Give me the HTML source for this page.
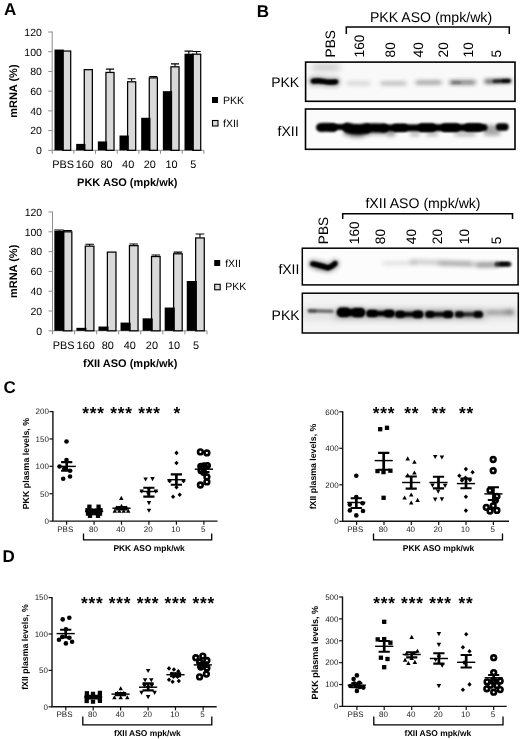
<!DOCTYPE html>
<html lang="en"><head><meta charset="utf-8"><title>Figure</title>
<style>
html,body{margin:0;padding:0;background:#fff;}
body{width:520px;height:739px;overflow:hidden;}
svg{display:block;font-family:"Liberation Sans", Arial, sans-serif;fill:#000;text-rendering:geometricPrecision;}
</style></head><body>
<svg width="520" height="739" viewBox="0 0 520 739">
<rect x="0" y="0" width="520" height="739" fill="#fff"/>
<g id="panelA">
<text x="3.9" y="15.2" font-size="17" font-weight="bold" text-anchor="start">A</text>
<g stroke="#8c8c8c" stroke-width="1" fill="none">
<path d="M52.2 31.5V150.3H203.9"/>
<path d="M48.2 150.30H52.2"/>
<path d="M48.2 130.58H52.2"/>
<path d="M48.2 110.87H52.2"/>
<path d="M48.2 91.15H52.2"/>
<path d="M48.2 71.43H52.2"/>
<path d="M48.2 51.72H52.2"/>
<path d="M48.2 32.00H52.2"/>
<path d="M52.20 150.3V153.8"/>
<path d="M73.87 150.3V153.8"/>
<path d="M95.54 150.3V153.8"/>
<path d="M117.21 150.3V153.8"/>
<path d="M138.89 150.3V153.8"/>
<path d="M160.56 150.3V153.8"/>
<path d="M182.23 150.3V153.8"/>
<path d="M203.90 150.3V153.8"/>
</g>
<text x="41.900000000000006" y="154.1" font-size="10.5" text-anchor="end">0</text>
<text x="41.900000000000006" y="134.38" font-size="10.5" text-anchor="end">20</text>
<text x="41.900000000000006" y="114.67" font-size="10.5" text-anchor="end">40</text>
<text x="41.900000000000006" y="94.95" font-size="10.5" text-anchor="end">60</text>
<text x="41.900000000000006" y="75.23" font-size="10.5" text-anchor="end">80</text>
<text x="41.900000000000006" y="55.52" font-size="10.5" text-anchor="end">100</text>
<text x="41.900000000000006" y="35.8" font-size="10.5" text-anchor="end">120</text>
<rect x="62.59" y="51.03" width="8.10" height="99.27" fill="#d9d9d9" stroke="#000" stroke-width="1.25"/>
<rect x="54.49" y="49.55" width="9.30" height="100.75" fill="#000"/>
<rect x="84.26" y="69.67" width="8.10" height="80.63" fill="#d9d9d9" stroke="#000" stroke-width="1.25"/>
<rect x="76.16" y="143.89" width="9.30" height="6.41" fill="#000"/>
<rect x="105.93" y="72.43" width="8.10" height="77.87" fill="#d9d9d9" stroke="#000" stroke-width="1.25"/>
<rect x="97.83" y="141.43" width="9.30" height="8.87" fill="#000"/>
<path d="M109.98 71.93V69.17M105.93 69.17H114.03" stroke="#000" stroke-width="1.1" fill="none"/>
<rect x="127.60" y="81.79" width="8.10" height="68.51" fill="#d9d9d9" stroke="#000" stroke-width="1.25"/>
<rect x="119.50" y="135.51" width="9.30" height="14.79" fill="#000"/>
<path d="M131.65 81.29V78.73M127.60 78.73H135.70" stroke="#000" stroke-width="1.1" fill="none"/>
<rect x="149.27" y="77.85" width="8.10" height="72.45" fill="#d9d9d9" stroke="#000" stroke-width="1.25"/>
<rect x="141.17" y="117.77" width="9.30" height="32.53" fill="#000"/>
<path d="M153.32 77.35V76.56M149.27 76.56H157.37" stroke="#000" stroke-width="1.1" fill="none"/>
<rect x="170.94" y="66.81" width="8.10" height="83.49" fill="#d9d9d9" stroke="#000" stroke-width="1.25"/>
<rect x="162.84" y="91.15" width="9.30" height="59.15" fill="#000"/>
<path d="M174.99 66.31V63.84M170.94 63.84H179.04" stroke="#000" stroke-width="1.1" fill="none"/>
<rect x="192.61" y="54.19" width="8.10" height="96.11" fill="#d9d9d9" stroke="#000" stroke-width="1.25"/>
<rect x="184.51" y="53.69" width="9.30" height="96.61" fill="#000"/>
<path d="M188.81 53.69V51.22M184.51 51.22H193.11" stroke="#000" stroke-width="1.2" fill="none"/>
<path d="M196.66 53.69V51.52M192.61 51.52H200.71" stroke="#000" stroke-width="1.1" fill="none"/>
<text x="63.14" y="168.2" font-size="10.9" text-anchor="middle">PBS</text>
<text x="84.81" y="168.2" font-size="10.9" text-anchor="middle">160</text>
<text x="106.48" y="168.2" font-size="10.9" text-anchor="middle">80</text>
<text x="128.15" y="168.2" font-size="10.9" text-anchor="middle">40</text>
<text x="149.82" y="168.2" font-size="10.9" text-anchor="middle">20</text>
<text x="171.49" y="168.2" font-size="10.9" text-anchor="middle">10</text>
<text x="193.16" y="168.2" font-size="10.9" text-anchor="middle">5</text>
<text x="127.3" y="186" font-size="11" font-weight="bold" text-anchor="middle">PKK ASO (mpk/wk)</text>
<text x="17.3" y="91.15" font-size="11" font-weight="bold" text-anchor="middle" transform="rotate(-90 17.3 91.15)">mRNA (%)</text>
<rect x="212" y="97" width="6" height="6" fill="#000"/>
<text x="223" y="103.6" font-size="10.5" text-anchor="start">PKK</text>
<rect x="212.5" y="120.5" width="5.5" height="5.5" fill="#d9d9d9" stroke="#000" stroke-width="1.1"/>
<text x="223" y="126.6" font-size="10.5" text-anchor="start">fXII</text>
<g stroke="#8c8c8c" stroke-width="1" fill="none">
<path d="M52.5 211.5V330.8H207"/>
<path d="M48.5 330.80H52.5"/>
<path d="M48.5 311.00H52.5"/>
<path d="M48.5 291.20H52.5"/>
<path d="M48.5 271.40H52.5"/>
<path d="M48.5 251.60H52.5"/>
<path d="M48.5 231.80H52.5"/>
<path d="M48.5 212.00H52.5"/>
<path d="M52.50 330.8V334.3"/>
<path d="M74.57 330.8V334.3"/>
<path d="M96.64 330.8V334.3"/>
<path d="M118.71 330.8V334.3"/>
<path d="M140.79 330.8V334.3"/>
<path d="M162.86 330.8V334.3"/>
<path d="M184.93 330.8V334.3"/>
<path d="M207.00 330.8V334.3"/>
</g>
<text x="42.2" y="334.6" font-size="10.5" text-anchor="end">0</text>
<text x="42.2" y="314.8" font-size="10.5" text-anchor="end">20</text>
<text x="42.2" y="295.0" font-size="10.5" text-anchor="end">40</text>
<text x="42.2" y="275.2" font-size="10.5" text-anchor="end">60</text>
<text x="42.2" y="255.4" font-size="10.5" text-anchor="end">80</text>
<text x="42.2" y="235.6" font-size="10.5" text-anchor="end">100</text>
<text x="42.2" y="215.8" font-size="10.5" text-anchor="end">120</text>
<rect x="63.24" y="231.81" width="8.60" height="99.00" fill="#d9d9d9" stroke="#000" stroke-width="1.25"/>
<rect x="54.34" y="230.81" width="10.10" height="99.99" fill="#000"/>
<path d="M59.04 230.81V230.02M54.34 230.02H63.74" stroke="#000" stroke-width="1.2" fill="none"/>
<path d="M67.54 231.31V230.51M63.24 230.51H71.84" stroke="#000" stroke-width="1.1" fill="none"/>
<rect x="85.31" y="246.16" width="8.60" height="84.64" fill="#d9d9d9" stroke="#000" stroke-width="1.25"/>
<rect x="76.41" y="327.83" width="10.10" height="2.97" fill="#000"/>
<path d="M89.61 245.66V244.18M85.31 244.18H93.91" stroke="#000" stroke-width="1.1" fill="none"/>
<rect x="107.38" y="252.10" width="8.60" height="78.70" fill="#d9d9d9" stroke="#000" stroke-width="1.25"/>
<rect x="98.48" y="326.54" width="10.10" height="4.26" fill="#000"/>
<rect x="129.45" y="245.67" width="8.60" height="85.14" fill="#d9d9d9" stroke="#000" stroke-width="1.25"/>
<rect x="120.55" y="322.58" width="10.10" height="8.22" fill="#000"/>
<path d="M133.75 245.17V243.98M129.45 243.98H138.05" stroke="#000" stroke-width="1.1" fill="none"/>
<rect x="151.52" y="256.56" width="8.60" height="74.25" fill="#d9d9d9" stroke="#000" stroke-width="1.25"/>
<rect x="142.62" y="318.33" width="10.10" height="12.47" fill="#000"/>
<path d="M155.82 256.06V255.06M151.52 255.06H160.12" stroke="#000" stroke-width="1.1" fill="none"/>
<rect x="173.59" y="253.78" width="8.60" height="77.02" fill="#d9d9d9" stroke="#000" stroke-width="1.25"/>
<rect x="164.69" y="307.54" width="10.10" height="23.27" fill="#000"/>
<path d="M177.89 253.28V252.09M173.59 252.09H182.19" stroke="#000" stroke-width="1.1" fill="none"/>
<rect x="195.66" y="237.94" width="8.60" height="92.86" fill="#d9d9d9" stroke="#000" stroke-width="1.25"/>
<rect x="186.76" y="281.00" width="10.10" height="49.80" fill="#000"/>
<path d="M199.96 237.44V233.98M195.66 233.98H204.26" stroke="#000" stroke-width="1.1" fill="none"/>
<text x="63.64" y="349" font-size="10.9" text-anchor="middle">PBS</text>
<text x="85.71" y="349" font-size="10.9" text-anchor="middle">160</text>
<text x="107.78" y="349" font-size="10.9" text-anchor="middle">80</text>
<text x="129.85" y="349" font-size="10.9" text-anchor="middle">40</text>
<text x="151.92" y="349" font-size="10.9" text-anchor="middle">20</text>
<text x="173.99" y="349" font-size="10.9" text-anchor="middle">10</text>
<text x="196.06" y="349" font-size="10.9" text-anchor="middle">5</text>
<text x="130.2" y="367" font-size="11" font-weight="bold" text-anchor="middle">fXII ASO (mpk/wk)</text>
<text x="17.3" y="271.4" font-size="11" font-weight="bold" text-anchor="middle" transform="rotate(-90 17.3 271.4)">mRNA (%)</text>
<rect x="214.2" y="260" width="6" height="6" fill="#000"/>
<text x="225.2" y="266.6" font-size="10.5" text-anchor="start">fXII</text>
<rect x="214.7" y="284.3" width="5.5" height="5.5" fill="#d9d9d9" stroke="#000" stroke-width="1.1"/>
<text x="225.2" y="290.40000000000003" font-size="10.5" text-anchor="start">PKK</text>
</g>
<g id="panelB">
<text x="256.7" y="17.0" font-size="17" font-weight="bold" text-anchor="start">B</text>
<defs>
<filter id="b0" filterUnits="userSpaceOnUse" x="290" y="50" width="240" height="300"><feGaussianBlur stdDeviation="0.9"/></filter>
<filter id="b1" filterUnits="userSpaceOnUse" x="290" y="50" width="240" height="300"><feGaussianBlur stdDeviation="1.3"/></filter>
<filter id="b2" filterUnits="userSpaceOnUse" x="290" y="50" width="240" height="300"><feGaussianBlur stdDeviation="2"/></filter>
<filter id="b3" filterUnits="userSpaceOnUse" x="290" y="50" width="240" height="300"><feGaussianBlur stdDeviation="3.2"/></filter>
</defs>
<text x="431" y="22.1" font-size="14.1" text-anchor="middle">PKK ASO (mpk/wk)</text>
<path d="M346.3 34V27H509.3V34" fill="none" stroke="#000" stroke-width="1.5"/>
<text x="335.2" y="57.4" font-size="13.7" text-anchor="start" transform="rotate(-90 335.2 57.4)">PBS</text>
<text x="363.7" y="57.4" font-size="13.7" text-anchor="start" transform="rotate(-90 363.7 57.4)">160</text>
<text x="395.4" y="57.4" font-size="13.7" text-anchor="start" transform="rotate(-90 395.4 57.4)">80</text>
<text x="423.1" y="57.4" font-size="13.7" text-anchor="start" transform="rotate(-90 423.1 57.4)">40</text>
<text x="448.1" y="57.4" font-size="13.7" text-anchor="start" transform="rotate(-90 448.1 57.4)">20</text>
<text x="472.9" y="57.4" font-size="13.7" text-anchor="start" transform="rotate(-90 472.9 57.4)">10</text>
<text x="501.1" y="57.4" font-size="13.7" text-anchor="start" transform="rotate(-90 501.1 57.4)">5</text>
<text x="271.2" y="87.4" font-size="14" text-anchor="start">PKK</text>
<text x="277.6" y="136.4" font-size="14" text-anchor="start">fXII</text>
<clipPath id="c1"><rect x="305.6" y="62.1" width="209.40" height="39.20"/></clipPath>
<rect x="305.6" y="62.1" width="209.40" height="39.20" fill="#f9f9f9"/>
<g clip-path="url(#c1)">
<path d="M315 67.6L337 67.6" fill="none" stroke="#666" stroke-width="6" stroke-linecap="round" stroke-linejoin="round" opacity="0.36" filter="url(#b3)"/>
<path d="M313 81.2Q319 80.6 324 81.6T336 81.9" fill="none" stroke="#000" stroke-width="9.5" stroke-linecap="round" stroke-linejoin="round" opacity="0.3" filter="url(#b2)"/>
<path d="M313 81.1Q319 80.5 324 81.5T336 81.8" fill="none" stroke="#000" stroke-width="4.8" stroke-linecap="round" stroke-linejoin="round" opacity="1" filter="url(#b0)"/>
<path d="M314 81.1Q319 80.5 324 81.5T335 81.8" fill="none" stroke="#000" stroke-width="3.6" stroke-linecap="round" stroke-linejoin="round" opacity="1" filter="url(#b0)"/>
<path d="M348 83.4L369 83.4" fill="none" stroke="#555" stroke-width="2.6" stroke-linecap="round" stroke-linejoin="round" opacity="0.33" filter="url(#b2)"/>
<path d="M382 83.4L405 83.4" fill="none" stroke="#444" stroke-width="2.8" stroke-linecap="round" stroke-linejoin="round" opacity="0.5" filter="url(#b2)"/>
<path d="M417 82.5L440 82.5" fill="none" stroke="#333" stroke-width="3" stroke-linecap="round" stroke-linejoin="round" opacity="0.62" filter="url(#b2)"/>
<path d="M451 82.4L474 82.4" fill="none" stroke="#222" stroke-width="3.2" stroke-linecap="round" stroke-linejoin="round" opacity="0.78" filter="url(#b2)"/>
<path d="M453 82.6L460 82.6" fill="none" stroke="#222" stroke-width="2.4" stroke-linecap="round" stroke-linejoin="round" opacity="0.4" filter="url(#b1)"/>
<path d="M486 81.5L510 81.0" fill="none" stroke="#111" stroke-width="3.4" stroke-linecap="round" stroke-linejoin="round" opacity="0.8" filter="url(#b2)"/>
<path d="M494 81.2L509 80.8" fill="none" stroke="#000" stroke-width="3" stroke-linecap="round" stroke-linejoin="round" opacity="0.9" filter="url(#b1)"/>
<path d="M503 81L509 81" fill="none" stroke="#000" stroke-width="2.6" stroke-linecap="round" stroke-linejoin="round" opacity="0.9" filter="url(#b0)"/>
</g>
<rect x="305.6" y="62.1" width="209.40" height="39.20" fill="none" stroke="#000" stroke-width="1.6"/>
<clipPath id="c2"><rect x="305.5" y="109.0" width="209.50" height="40.30"/></clipPath>
<rect x="305.5" y="109.0" width="209.50" height="40.30" fill="#fbfbfb"/>
<g clip-path="url(#c2)">
<path d="M346 133L368 133" fill="none" stroke="#000" stroke-width="5" stroke-linecap="round" stroke-linejoin="round" opacity="0.5" filter="url(#b2)"/>
<path d="M352 135.5L362 135.5" fill="none" stroke="#000" stroke-width="4" stroke-linecap="round" stroke-linejoin="round" opacity="0.35" filter="url(#b2)"/>
<path d="M372 132.5L394 132.5" fill="none" stroke="#000" stroke-width="4" stroke-linecap="round" stroke-linejoin="round" opacity="0.4" filter="url(#b2)"/>
<path d="M389 135L393 135" fill="none" stroke="#000" stroke-width="3" stroke-linecap="round" stroke-linejoin="round" opacity="0.3" filter="url(#b2)"/>
<path d="M412 134L418 134" fill="none" stroke="#000" stroke-width="4" stroke-linecap="round" stroke-linejoin="round" opacity="0.3" filter="url(#b2)"/>
<path d="M428 134L436 134" fill="none" stroke="#000" stroke-width="4" stroke-linecap="round" stroke-linejoin="round" opacity="0.3" filter="url(#b2)"/>
<path d="M456 134L474 134" fill="none" stroke="#000" stroke-width="4" stroke-linecap="round" stroke-linejoin="round" opacity="0.3" filter="url(#b2)"/>
<path d="M486 133L498 133" fill="none" stroke="#000" stroke-width="5" stroke-linecap="round" stroke-linejoin="round" opacity="0.35" filter="url(#b2)"/>
<path d="M486 128L497 128" fill="none" stroke="#000" stroke-width="5" stroke-linecap="round" stroke-linejoin="round" opacity="0.4" filter="url(#b2)"/>
<path d="M320.5 127.4Q328 127 333 127.6" fill="none" stroke="#000" stroke-width="9" stroke-linecap="round" stroke-linejoin="round" opacity="1" filter="url(#b1)"/>
<path d="M331 127L346 127" fill="none" stroke="#000" stroke-width="5.8" stroke-linecap="round" stroke-linejoin="round" opacity="1" filter="url(#b1)"/>
<path d="M347.5 127.8Q353 129.4 360 129.2L366 128.6" fill="none" stroke="#000" stroke-width="10.6" stroke-linecap="round" stroke-linejoin="round" opacity="1" filter="url(#b1)"/>
<path d="M368 128Q376 127.6 384 128.2" fill="none" stroke="#000" stroke-width="9.2" stroke-linecap="round" stroke-linejoin="round" opacity="1" filter="url(#b1)"/>
<path d="M384 128L484 127.5" fill="none" stroke="#000" stroke-width="7.2" stroke-linecap="round" stroke-linejoin="round" opacity="1" filter="url(#b1)"/>
<path d="M396 127.8L404 127.8" fill="none" stroke="#000" stroke-width="8" stroke-linecap="round" stroke-linejoin="round" opacity="1" filter="url(#b1)"/>
<path d="M422 127.7L432 127.7" fill="none" stroke="#000" stroke-width="8.8" stroke-linecap="round" stroke-linejoin="round" opacity="1" filter="url(#b1)"/>
<path d="M445 127.6L456 127.6" fill="none" stroke="#000" stroke-width="8.8" stroke-linecap="round" stroke-linejoin="round" opacity="1" filter="url(#b1)"/>
<path d="M468 127.5L479 127.5" fill="none" stroke="#000" stroke-width="8.6" stroke-linecap="round" stroke-linejoin="round" opacity="1" filter="url(#b1)"/>
<path d="M499.5 127L505 127" fill="none" stroke="#000" stroke-width="7.4" stroke-linecap="round" stroke-linejoin="round" opacity="1" filter="url(#b1)"/>
</g>
<rect x="305.5" y="109.0" width="209.50" height="40.30" fill="none" stroke="#000" stroke-width="1.6"/>
<text x="423" y="208" font-size="14.1" text-anchor="middle">fXII ASO (mpk/wk)</text>
<path d="M342.7 219V213.7H512.5V219" fill="none" stroke="#000" stroke-width="1.5"/>
<text x="328.1" y="244.2" font-size="13.7" text-anchor="start" transform="rotate(-90 328.1 244.2)">PBS</text>
<text x="359.4" y="244.2" font-size="13.7" text-anchor="start" transform="rotate(-90 359.4 244.2)">160</text>
<text x="384.9" y="244.2" font-size="13.7" text-anchor="start" transform="rotate(-90 384.9 244.2)">80</text>
<text x="416.3" y="244.2" font-size="13.7" text-anchor="start" transform="rotate(-90 416.3 244.2)">40</text>
<text x="442.4" y="244.2" font-size="13.7" text-anchor="start" transform="rotate(-90 442.4 244.2)">20</text>
<text x="468.7" y="244.2" font-size="13.7" text-anchor="start" transform="rotate(-90 468.7 244.2)">10</text>
<text x="500.7" y="244.2" font-size="13.7" text-anchor="start" transform="rotate(-90 500.7 244.2)">5</text>
<text x="278.4" y="273.8" font-size="14" text-anchor="start">fXII</text>
<text x="271.6" y="320.1" font-size="14" text-anchor="start">PKK</text>
<clipPath id="c3"><rect x="302.3" y="248.2" width="215.80" height="36.70"/></clipPath>
<rect x="302.3" y="248.2" width="215.80" height="36.70" fill="#fcfcfc"/>
<g clip-path="url(#c3)">
<path d="M313 264Q321 265.6 328 267.8Q332 267 335 263.8" fill="none" stroke="#000" stroke-width="9.5" stroke-linecap="round" stroke-linejoin="round" opacity="0.3" filter="url(#b2)"/>
<path d="M312.5 263.9Q321 265.6 328 267.8Q332 266.8 335.3 263.5" fill="none" stroke="#000" stroke-width="5.0" stroke-linecap="round" stroke-linejoin="round" opacity="1" filter="url(#b0)"/>
<path d="M314 264Q321 265.6 328 267.8Q332 266.8 334.5 263.8" fill="none" stroke="#000" stroke-width="3.4" stroke-linecap="round" stroke-linejoin="round" opacity="1" filter="url(#b0)"/>
<path d="M317 268.5L327 268.5" fill="none" stroke="#000" stroke-width="3" stroke-linecap="round" stroke-linejoin="round" opacity="0.25" filter="url(#b2)"/>
<path d="M384 263.3L415 263.3" fill="none" stroke="#666" stroke-width="3.5" stroke-linecap="round" stroke-linejoin="round" opacity="0.22" filter="url(#b2)"/>
<path d="M412 261.8L470 263.5" fill="none" stroke="#555" stroke-width="4.5" stroke-linecap="round" stroke-linejoin="round" opacity="0.3" filter="url(#b2)"/>
<path d="M440 263.5L496 265" fill="none" stroke="#444" stroke-width="4" stroke-linecap="round" stroke-linejoin="round" opacity="0.3" filter="url(#b2)"/>
<path d="M478 265L500 264.5" fill="none" stroke="#333" stroke-width="4" stroke-linecap="round" stroke-linejoin="round" opacity="0.4" filter="url(#b2)"/>
<path d="M497 264.2L509 264.2" fill="none" stroke="#000" stroke-width="5" stroke-linecap="round" stroke-linejoin="round" opacity="0.75" filter="url(#b1)"/>
<path d="M501 264L508 264" fill="none" stroke="#000" stroke-width="3.6" stroke-linecap="round" stroke-linejoin="round" opacity="1" filter="url(#b0)"/>
</g>
<rect x="302.3" y="248.2" width="215.80" height="36.70" fill="none" stroke="#000" stroke-width="1.5"/>
<clipPath id="c4"><rect x="302.3" y="293.2" width="216.00" height="39.80"/></clipPath>
<rect x="302.3" y="293.2" width="216.00" height="39.80" fill="#f4f4f4"/>
<g clip-path="url(#c4)">
<path d="M306 313.5L514 313.5" fill="none" stroke="#000" stroke-width="14" stroke-linecap="round" stroke-linejoin="round" opacity="0.07" filter="url(#b3)"/>
<path d="M338 315L482 315" fill="none" stroke="#000" stroke-width="12" stroke-linecap="round" stroke-linejoin="round" opacity="0.08" filter="url(#b3)"/>
<path d="M309 310.8L332 311.2" fill="none" stroke="#222" stroke-width="3.4" stroke-linecap="round" stroke-linejoin="round" opacity="0.62" filter="url(#b1)"/>
<path d="M310 311L315 311" fill="none" stroke="#222" stroke-width="3" stroke-linecap="round" stroke-linejoin="round" opacity="0.5" filter="url(#b1)"/>
<path d="M341 312.4L361 312.4" fill="none" stroke="#000" stroke-width="10" stroke-linecap="round" stroke-linejoin="round" opacity="0.3" filter="url(#b2)"/>
<path d="M341.5 312.4L360.5 312.4" fill="none" stroke="#000" stroke-width="7" stroke-linecap="round" stroke-linejoin="round" opacity="1" filter="url(#b1)"/>
<path d="M341.5 312.2L346 312.2" fill="none" stroke="#000" stroke-width="9.4" stroke-linecap="round" stroke-linejoin="round" opacity="1" filter="url(#b1)"/>
<path d="M356 312.6L360.5 312.6" fill="none" stroke="#000" stroke-width="9.4" stroke-linecap="round" stroke-linejoin="round" opacity="1" filter="url(#b1)"/>
<path d="M370 313.6L391 313.6" fill="none" stroke="#000" stroke-width="8" stroke-linecap="round" stroke-linejoin="round" opacity="0.3" filter="url(#b2)"/>
<path d="M370 313.4L391 313.4" fill="none" stroke="#000" stroke-width="5" stroke-linecap="round" stroke-linejoin="round" opacity="1" filter="url(#b1)"/>
<path d="M370 313.4L374 313.4" fill="none" stroke="#000" stroke-width="7.4" stroke-linecap="round" stroke-linejoin="round" opacity="1" filter="url(#b1)"/>
<path d="M387.5 313.6L391 313.6" fill="none" stroke="#000" stroke-width="7.6" stroke-linecap="round" stroke-linejoin="round" opacity="1" filter="url(#b1)"/>
<path d="M398.5 314.4L420 314.4" fill="none" stroke="#000" stroke-width="8" stroke-linecap="round" stroke-linejoin="round" opacity="0.3" filter="url(#b2)"/>
<path d="M398.5 314.4L420 314.4" fill="none" stroke="#000" stroke-width="4.8" stroke-linecap="round" stroke-linejoin="round" opacity="0.95" filter="url(#b1)"/>
<path d="M398.5 314.2L401.5 314.2" fill="none" stroke="#000" stroke-width="7" stroke-linecap="round" stroke-linejoin="round" opacity="1" filter="url(#b1)"/>
<path d="M416.5 314.4L419.5 314.4" fill="none" stroke="#000" stroke-width="7.6" stroke-linecap="round" stroke-linejoin="round" opacity="1" filter="url(#b1)"/>
<path d="M428.5 314.4L450 314.4" fill="none" stroke="#000" stroke-width="8" stroke-linecap="round" stroke-linejoin="round" opacity="0.28" filter="url(#b2)"/>
<path d="M428.5 314.4L450 314.4" fill="none" stroke="#000" stroke-width="4.6" stroke-linecap="round" stroke-linejoin="round" opacity="0.9" filter="url(#b1)"/>
<path d="M428.5 314.4L431 314.4" fill="none" stroke="#000" stroke-width="6.6" stroke-linecap="round" stroke-linejoin="round" opacity="0.95" filter="url(#b1)"/>
<path d="M447 314.4L449.5 314.4" fill="none" stroke="#000" stroke-width="7.4" stroke-linecap="round" stroke-linejoin="round" opacity="1" filter="url(#b1)"/>
<path d="M458 314.4L480 314.4" fill="none" stroke="#000" stroke-width="8" stroke-linecap="round" stroke-linejoin="round" opacity="0.22" filter="url(#b2)"/>
<path d="M458 314.4L480 314.4" fill="none" stroke="#000" stroke-width="4.4" stroke-linecap="round" stroke-linejoin="round" opacity="0.75" filter="url(#b1)"/>
<path d="M458 314.4L460.5 314.4" fill="none" stroke="#000" stroke-width="6.2" stroke-linecap="round" stroke-linejoin="round" opacity="0.85" filter="url(#b1)"/>
<path d="M477 314.4L479.5 314.4" fill="none" stroke="#000" stroke-width="6.8" stroke-linecap="round" stroke-linejoin="round" opacity="0.95" filter="url(#b1)"/>
<path d="M488 312.4L512 312.4" fill="none" stroke="#333" stroke-width="4" stroke-linecap="round" stroke-linejoin="round" opacity="0.45" filter="url(#b2)"/>
<path d="M507 311.8L511 311.8" fill="none" stroke="#444" stroke-width="4.5" stroke-linecap="round" stroke-linejoin="round" opacity="0.3" filter="url(#b2)"/>
</g>
<rect x="302.3" y="293.2" width="216.00" height="39.80" fill="none" stroke="#000" stroke-width="1.5"/>
</g>
<g id="panelC">
<text x="3.5" y="392.8" font-size="17" font-weight="bold" text-anchor="start">C</text>
<path d="M52.9 411.0V521.1H217.5" fill="none" stroke="#111" stroke-width="1.4"/>
<path d="M49.5 521.10H52.9" stroke="#111" stroke-width="1.2"/>
<text x="48.9" y="523.9" font-size="8" text-anchor="end" fill="#222">0</text>
<path d="M49.5 493.73H52.9" stroke="#111" stroke-width="1.2"/>
<text x="48.9" y="496.53" font-size="8" text-anchor="end" fill="#222">50</text>
<path d="M49.5 466.35H52.9" stroke="#111" stroke-width="1.2"/>
<text x="48.9" y="469.15" font-size="8" text-anchor="end" fill="#222">100</text>
<path d="M49.5 438.98H52.9" stroke="#111" stroke-width="1.2"/>
<text x="48.9" y="441.78" font-size="8" text-anchor="end" fill="#222">150</text>
<path d="M49.5 411.60H52.9" stroke="#111" stroke-width="1.2"/>
<text x="48.9" y="414.4" font-size="8" text-anchor="end" fill="#222">200</text>
<path d="M66.6 521.1V524.7" stroke="#111" stroke-width="1.2"/>
<path d="M94.1 521.1V524.7" stroke="#111" stroke-width="1.2"/>
<path d="M121.5 521.1V524.7" stroke="#111" stroke-width="1.2"/>
<path d="M148.9 521.1V524.7" stroke="#111" stroke-width="1.2"/>
<path d="M176.4 521.1V524.7" stroke="#111" stroke-width="1.2"/>
<path d="M203.9 521.1V524.7" stroke="#111" stroke-width="1.2"/>
<text x="65.3" y="531.9" font-size="8" text-anchor="middle" fill="#222">PBS</text>
<text x="93.4" y="531.9" font-size="8" text-anchor="middle" fill="#222">80</text>
<text x="120.8" y="531.9" font-size="8" text-anchor="middle" fill="#222">40</text>
<text x="148.2" y="531.9" font-size="8" text-anchor="middle" fill="#222">20</text>
<text x="175.7" y="531.9" font-size="8" text-anchor="middle" fill="#222">10</text>
<text x="203.2" y="531.9" font-size="8" text-anchor="middle" fill="#222">5</text>
<text x="29.4" y="509.3" font-size="8.85" font-weight="bold" text-anchor="start" transform="rotate(-90 29.4 509.3)">PKK plasma levels, %</text>
<text x="93.60000000000001" y="418.5" font-size="17.3" font-weight="bold" text-anchor="middle" letter-spacing="0.8">***</text>
<text x="121.60000000000001" y="418.5" font-size="17.3" font-weight="bold" text-anchor="middle" letter-spacing="0.8">***</text>
<text x="149.6" y="418.5" font-size="17.3" font-weight="bold" text-anchor="middle" letter-spacing="0.8">***</text>
<text x="177.20000000000002" y="418.5" font-size="17.3" font-weight="bold" text-anchor="middle" letter-spacing="0.8">*</text>
<path d="M83.5 533.4V539.8H211.7V533.4" fill="none" stroke="#000" stroke-width="1.3"/>
<text x="149.1" y="551" font-size="8.45" font-weight="bold" text-anchor="middle">PKK ASO mpk/wk</text>
<g fill="#000">
<circle cx="66.5" cy="441.5" r="2.3"/>
<circle cx="66.5" cy="460" r="2.3"/>
<circle cx="59.6" cy="466.5" r="2.3"/>
<circle cx="64.2" cy="468.8" r="2.3"/>
<circle cx="70" cy="470.8" r="2.3"/>
<circle cx="70" cy="476.5" r="2.3"/>
<circle cx="63.2" cy="478.8" r="2.3"/>
</g>
<path d="M57.6 466.4H75.8" stroke="#000" stroke-width="1.45" fill="none"/>
<path d="M66.7 462.1V470.8" stroke="#000" stroke-width="2.7" fill="none"/>
<path d="M61.1 462.1H72.3M61.1 470.8H72.3" stroke="#000" stroke-width="2.1" fill="none"/>
<g fill="#000">
<rect x="87.25" y="504.55" width="4.3" height="4.3"/>
<rect x="96.45" y="504.55" width="4.3" height="4.3"/>
<rect x="85.35" y="508.05" width="4.3" height="4.3"/>
<rect x="89.25" y="508.45" width="4.3" height="4.3"/>
<rect x="94.45" y="508.45" width="4.3" height="4.3"/>
<rect x="98.35" y="508.05" width="4.3" height="4.3"/>
<rect x="85.85" y="511.45" width="4.3" height="4.3"/>
<rect x="89.65" y="511.05" width="4.3" height="4.3"/>
<rect x="94.05" y="511.05" width="4.3" height="4.3"/>
<rect x="97.85" y="511.45" width="4.3" height="4.3"/>
<rect x="87.85" y="513.65" width="4.3" height="4.3"/>
<rect x="95.85" y="513.65" width="4.3" height="4.3"/>
</g>
<path d="M85.0 511.2H103.19999999999999" stroke="#000" stroke-width="1.45" fill="none"/>
<path d="M94.1 509.9V512.5" stroke="#000" stroke-width="2.7" fill="none"/>
<path d="M88.5 509.9H99.69999999999999M88.5 512.5H99.69999999999999" stroke="#000" stroke-width="2.1" fill="none"/>
<g fill="#000">
<path d="M119.05 499.90L121.3 495.80L123.55 499.90Z"/>
<path d="M119.25 507.90L121.5 503.80L123.75 507.90Z"/>
<path d="M114.25 509.50L116.5 505.40L118.75 509.50Z"/>
<path d="M124.25 509.50L126.5 505.40L128.75 509.50Z"/>
<path d="M112.55 512.70L114.8 508.60L117.05 512.70Z"/>
<path d="M117.05 512.80L119.3 508.70L121.55 512.80Z"/>
<path d="M121.45 512.80L123.7 508.70L125.95 512.80Z"/>
<path d="M125.95 512.70L128.2 508.60L130.45 512.70Z"/>
</g>
<path d="M112.4 508.2H130.6" stroke="#000" stroke-width="1.45" fill="none"/>
<path d="M121.5 507V509.4" stroke="#000" stroke-width="2.7" fill="none"/>
<path d="M115.9 507H127.1M115.9 509.4H127.1" stroke="#000" stroke-width="2.1" fill="none"/>
<g fill="#000">
<path d="M143.35 477.50L145.6 481.60L147.85 477.50Z"/>
<path d="M150.25 477.10L152.5 481.20L154.75 477.10Z"/>
<path d="M139.55 489.40L141.8 493.50L144.05 489.40Z"/>
<path d="M153.55 489.60L155.8 493.70L158.05 489.60Z"/>
<path d="M146.55 487.70L148.8 491.80L151.05 487.70Z"/>
<path d="M146.05 492.30L148.3 496.40L150.55 492.30Z"/>
<path d="M146.75 501.10L149 505.20L151.25 501.10Z"/>
<path d="M146.75 508.70L149 512.80L151.25 508.70Z"/>
</g>
<path d="M139.8 491.5H158.0" stroke="#000" stroke-width="1.45" fill="none"/>
<path d="M148.9 487.8V496.6" stroke="#000" stroke-width="2.7" fill="none"/>
<path d="M143.3 487.8H154.5M143.3 496.6H154.5" stroke="#000" stroke-width="2.1" fill="none"/>
<g fill="#000">
<path d="M174.35 452.9L176.5 450.60L178.65 452.9L176.5 455.20Z"/>
<path d="M174.35 463L176.5 460.70L178.65 463L176.5 465.30Z"/>
<path d="M167.45 481L169.6 478.70L171.75 481L169.6 483.30Z"/>
<path d="M181.35 481L183.5 478.70L185.65 481L183.5 483.30Z"/>
<path d="M174.35 487.3L176.5 485.00L178.65 487.3L176.5 489.60Z"/>
<path d="M170.95 496.8L173.1 494.50L175.25 496.8L173.1 499.10Z"/>
<path d="M177.55 494.7L179.7 492.40L181.85 494.7L179.7 497.00Z"/>
</g>
<path d="M167.3 479.7H185.5" stroke="#000" stroke-width="1.45" fill="none"/>
<path d="M176.4 474.4V484.7" stroke="#000" stroke-width="2.7" fill="none"/>
<path d="M170.8 474.4H182.0M170.8 484.7H182.0" stroke="#000" stroke-width="2.1" fill="none"/>
<g fill="#000">
<circle cx="200.4" cy="451.9" r="2.35" fill="none" stroke="#000" stroke-width="2.6"/>
<circle cx="206.9" cy="452.9" r="2.35" fill="none" stroke="#000" stroke-width="2.6"/>
<circle cx="200.8" cy="466.3" r="2.35" fill="none" stroke="#000" stroke-width="2.6"/>
<circle cx="204" cy="466" r="2.35" fill="none" stroke="#000" stroke-width="2.6"/>
<circle cx="207.4" cy="465.6" r="2.35" fill="none" stroke="#000" stroke-width="2.6"/>
<circle cx="201" cy="470.6" r="2.35" fill="none" stroke="#000" stroke-width="2.6"/>
<circle cx="203.6" cy="472.3" r="2.35" fill="none" stroke="#000" stroke-width="2.6"/>
<circle cx="206.9" cy="476.9" r="2.35" fill="none" stroke="#000" stroke-width="2.6"/>
<circle cx="206.9" cy="481.9" r="2.35" fill="none" stroke="#000" stroke-width="2.6"/>
<circle cx="200.4" cy="485" r="2.35" fill="none" stroke="#000" stroke-width="2.6"/>
</g>
<path d="M194.8 469.2H213.0" stroke="#000" stroke-width="1.45" fill="none"/>
<path d="M203.9 466.3V472.1" stroke="#000" stroke-width="2.7" fill="none"/>
<path d="M198.3 466.3H209.5M198.3 472.1H209.5" stroke="#000" stroke-width="2.1" fill="none"/>
<path d="M342.7 411.2V521.3H509" fill="none" stroke="#111" stroke-width="1.4"/>
<path d="M339.3 521.30H342.7" stroke="#111" stroke-width="1.2"/>
<text x="338.7" y="524.1" font-size="8" text-anchor="end" fill="#222">0</text>
<path d="M339.3 484.80H342.7" stroke="#111" stroke-width="1.2"/>
<text x="338.7" y="487.6" font-size="8" text-anchor="end" fill="#222">200</text>
<path d="M339.3 448.30H342.7" stroke="#111" stroke-width="1.2"/>
<text x="338.7" y="451.1" font-size="8" text-anchor="end" fill="#222">400</text>
<path d="M339.3 411.80H342.7" stroke="#111" stroke-width="1.2"/>
<text x="338.7" y="414.6" font-size="8" text-anchor="end" fill="#222">600</text>
<path d="M356.6 521.3V524.9" stroke="#111" stroke-width="1.2"/>
<path d="M384 521.3V524.9" stroke="#111" stroke-width="1.2"/>
<path d="M411.3 521.3V524.9" stroke="#111" stroke-width="1.2"/>
<path d="M438.7 521.3V524.9" stroke="#111" stroke-width="1.2"/>
<path d="M466 521.3V524.9" stroke="#111" stroke-width="1.2"/>
<path d="M493.4 521.3V524.9" stroke="#111" stroke-width="1.2"/>
<text x="355.3" y="531.9" font-size="8" text-anchor="middle" fill="#222">PBS</text>
<text x="383.3" y="531.9" font-size="8" text-anchor="middle" fill="#222">80</text>
<text x="410.6" y="531.9" font-size="8" text-anchor="middle" fill="#222">40</text>
<text x="438.0" y="531.9" font-size="8" text-anchor="middle" fill="#222">20</text>
<text x="465.3" y="531.9" font-size="8" text-anchor="middle" fill="#222">10</text>
<text x="492.7" y="531.9" font-size="8" text-anchor="middle" fill="#222">5</text>
<text x="315.9" y="509.3" font-size="8.75" font-weight="bold" text-anchor="start" transform="rotate(-90 315.9 509.3)">fXII plasma levels, %</text>
<text x="384.0" y="418.5" font-size="17.3" font-weight="bold" text-anchor="middle" letter-spacing="0.8">***</text>
<text x="411.7" y="418.5" font-size="17.3" font-weight="bold" text-anchor="middle" letter-spacing="0.8">**</text>
<text x="439.0" y="418.5" font-size="17.3" font-weight="bold" text-anchor="middle" letter-spacing="0.8">**</text>
<text x="466.59999999999997" y="418.5" font-size="17.3" font-weight="bold" text-anchor="middle" letter-spacing="0.8">**</text>
<path d="M373.5 533.4V539.8H502.5V533.4" fill="none" stroke="#000" stroke-width="1.3"/>
<text x="438.5" y="551" font-size="8.45" font-weight="bold" text-anchor="middle">PKK ASO mpk/wk</text>
<g fill="#000">
<circle cx="356.3" cy="475.8" r="2.3"/>
<circle cx="356.3" cy="497.1" r="2.3"/>
<circle cx="349.8" cy="504.6" r="2.3"/>
<circle cx="362.6" cy="503.2" r="2.3"/>
<circle cx="349.8" cy="510.4" r="2.3"/>
<circle cx="363" cy="511" r="2.3"/>
<circle cx="356.3" cy="515.4" r="2.3"/>
</g>
<path d="M347.2 502.5H365.40000000000003" stroke="#000" stroke-width="1.45" fill="none"/>
<path d="M356.3 498.2V508" stroke="#000" stroke-width="2.7" fill="none"/>
<path d="M350.7 498.2H361.90000000000003M350.7 508H361.90000000000003" stroke="#000" stroke-width="2.1" fill="none"/>
<g fill="#000">
<rect x="378.05" y="427.05" width="4.3" height="4.3"/>
<rect x="384.85" y="425.65" width="4.3" height="4.3"/>
<rect x="375.35" y="468.95" width="4.3" height="4.3"/>
<rect x="388.25" y="468.55" width="4.3" height="4.3"/>
<rect x="381.35" y="469.95" width="4.3" height="4.3"/>
<rect x="381.45" y="495.65" width="4.3" height="4.3"/>
</g>
<path d="M374.59999999999997 460.6H392.8" stroke="#000" stroke-width="1.45" fill="none"/>
<path d="M383.7 452.9V469.8" stroke="#000" stroke-width="2.7" fill="none"/>
<path d="M378.09999999999997 452.9H389.3M378.09999999999997 469.8H389.3" stroke="#000" stroke-width="2.1" fill="none"/>
<g fill="#000">
<path d="M405.45 460.40L407.7 456.30L409.95 460.40Z"/>
<path d="M412.15 463.80L414.4 459.70L416.65 463.80Z"/>
<path d="M412.15 474.60L414.4 470.50L416.65 474.60Z"/>
<path d="M405.45 477.00L407.7 472.90L409.95 477.00Z"/>
<path d="M408.95 496.60L411.2 492.50L413.45 496.60Z"/>
<path d="M402.35 499.50L404.6 495.40L406.85 499.50Z"/>
<path d="M415.35 501.90L417.6 497.80L419.85 501.90Z"/>
<path d="M408.95 504.50L411.2 500.40L413.45 504.50Z"/>
</g>
<path d="M402.09999999999997 482.5H420.3" stroke="#000" stroke-width="1.45" fill="none"/>
<path d="M411.2 476.5V488.6" stroke="#000" stroke-width="2.7" fill="none"/>
<path d="M405.59999999999997 476.5H416.8M405.59999999999997 488.6H416.8" stroke="#000" stroke-width="2.1" fill="none"/>
<g fill="#000">
<path d="M432.95 454.90L435.2 459.00L437.45 454.90Z"/>
<path d="M439.65 455.50L441.9 459.60L444.15 455.50Z"/>
<path d="M442.85 483.80L445.1 487.90L447.35 483.80Z"/>
<path d="M435.95 489.60L438.2 493.70L440.45 489.60Z"/>
<path d="M432.95 497.60L435.2 501.70L437.45 497.60Z"/>
<path d="M439.65 497.30L441.9 501.40L444.15 497.30Z"/>
<path d="M430.25 483.60L432.5 487.70L434.75 483.60Z"/>
</g>
<path d="M429.4 482.5H447.6" stroke="#000" stroke-width="1.45" fill="none"/>
<path d="M438.5 476.7V488.4" stroke="#000" stroke-width="2.7" fill="none"/>
<path d="M432.9 476.7H444.1M432.9 488.4H444.1" stroke="#000" stroke-width="2.1" fill="none"/>
<g fill="#000">
<path d="M463.75 469.1L465.9 466.80L468.05 469.1L465.9 471.40Z"/>
<path d="M470.45 472.3L472.6 470.00L474.75 472.3L472.6 474.60Z"/>
<path d="M457.15 475.7L459.3 473.40L461.45 475.7L459.3 478.00Z"/>
<path d="M463.35 477.8L465.5 475.50L467.65 477.8L465.5 480.10Z"/>
<path d="M467.85 480L470 477.70L472.15 480L470 482.30Z"/>
<path d="M459.85 480.5L462 478.20L464.15 480.5L462 482.80Z"/>
<path d="M463.75 496.8L465.9 494.50L468.05 496.8L465.9 499.10Z"/>
<path d="M463.75 510.6L465.9 508.30L468.05 510.6L465.9 512.90Z"/>
</g>
<path d="M456.9 483.6H475.1" stroke="#000" stroke-width="1.45" fill="none"/>
<path d="M466 478.6V488.2" stroke="#000" stroke-width="2.7" fill="none"/>
<path d="M460.4 478.6H471.6M460.4 488.2H471.6" stroke="#000" stroke-width="2.1" fill="none"/>
<g fill="#000">
<circle cx="493.2" cy="459.5" r="2.35" fill="none" stroke="#000" stroke-width="2.6"/>
<circle cx="493.2" cy="470.7" r="2.35" fill="none" stroke="#000" stroke-width="2.6"/>
<circle cx="490" cy="490.5" r="2.35" fill="none" stroke="#000" stroke-width="2.6"/>
<circle cx="496.9" cy="496.3" r="2.35" fill="none" stroke="#000" stroke-width="2.6"/>
<circle cx="495.3" cy="500.2" r="2.35" fill="none" stroke="#000" stroke-width="2.6"/>
<circle cx="486.3" cy="507.4" r="2.35" fill="none" stroke="#000" stroke-width="2.6"/>
<circle cx="493.2" cy="505.8" r="2.35" fill="none" stroke="#000" stroke-width="2.6"/>
<circle cx="490" cy="511.1" r="2.35" fill="none" stroke="#000" stroke-width="2.6"/>
<circle cx="496.9" cy="510.4" r="2.35" fill="none" stroke="#000" stroke-width="2.6"/>
</g>
<path d="M484.29999999999995 493.9H502.5" stroke="#000" stroke-width="1.45" fill="none"/>
<path d="M493.4 487.3V500" stroke="#000" stroke-width="2.7" fill="none"/>
<path d="M487.79999999999995 487.3H499.0M487.79999999999995 500H499.0" stroke="#000" stroke-width="2.1" fill="none"/>
</g>
<g id="panelD">
<text x="2.6" y="561.7" font-size="17" font-weight="bold" text-anchor="start">D</text>
<path d="M52 597.0V706.8H216.7" fill="none" stroke="#111" stroke-width="1.4"/>
<path d="M48.6 706.80H52" stroke="#111" stroke-width="1.2"/>
<text x="48.0" y="709.6" font-size="8" text-anchor="end" fill="#222">0</text>
<path d="M48.6 670.40H52" stroke="#111" stroke-width="1.2"/>
<text x="48.0" y="673.2" font-size="8" text-anchor="end" fill="#222">50</text>
<path d="M48.6 634.00H52" stroke="#111" stroke-width="1.2"/>
<text x="48.0" y="636.8" font-size="8" text-anchor="end" fill="#222">100</text>
<path d="M48.6 597.60H52" stroke="#111" stroke-width="1.2"/>
<text x="48.0" y="600.4" font-size="8" text-anchor="end" fill="#222">150</text>
<path d="M65.8 706.8V710.4" stroke="#111" stroke-width="1.2"/>
<path d="M93.2 706.8V710.4" stroke="#111" stroke-width="1.2"/>
<path d="M120.6 706.8V710.4" stroke="#111" stroke-width="1.2"/>
<path d="M148.1 706.8V710.4" stroke="#111" stroke-width="1.2"/>
<path d="M175.5 706.8V710.4" stroke="#111" stroke-width="1.2"/>
<path d="M203.2 706.8V710.4" stroke="#111" stroke-width="1.2"/>
<text x="64.5" y="717.3" font-size="8" text-anchor="middle" fill="#222">PBS</text>
<text x="92.5" y="717.3" font-size="8" text-anchor="middle" fill="#222">80</text>
<text x="119.9" y="717.3" font-size="8" text-anchor="middle" fill="#222">40</text>
<text x="147.4" y="717.3" font-size="8" text-anchor="middle" fill="#222">20</text>
<text x="174.8" y="717.3" font-size="8" text-anchor="middle" fill="#222">10</text>
<text x="202.5" y="717.3" font-size="8" text-anchor="middle" fill="#222">5</text>
<text x="27.7" y="689.8" font-size="8.75" font-weight="bold" text-anchor="start" transform="rotate(-90 27.7 689.8)">fXII plasma levels, %</text>
<text x="92.2" y="608.5" font-size="17.3" font-weight="bold" text-anchor="middle" letter-spacing="0.8">***</text>
<text x="120.10000000000001" y="608.5" font-size="17.3" font-weight="bold" text-anchor="middle" letter-spacing="0.8">***</text>
<text x="148.0" y="608.5" font-size="17.3" font-weight="bold" text-anchor="middle" letter-spacing="0.8">***</text>
<text x="175.8" y="608.5" font-size="17.3" font-weight="bold" text-anchor="middle" letter-spacing="0.8">***</text>
<text x="203.8" y="608.5" font-size="17.3" font-weight="bold" text-anchor="middle" letter-spacing="0.8">***</text>
<path d="M82.8 716.6V724.8H211.8V716.6" fill="none" stroke="#000" stroke-width="1.3"/>
<text x="147.3" y="735.6" font-size="8.45" font-weight="bold" text-anchor="middle">fXII ASO mpk/wk</text>
<g fill="#000">
<circle cx="62.7" cy="619.4" r="2.3"/>
<circle cx="69.3" cy="617.7" r="2.3"/>
<circle cx="65.9" cy="629.2" r="2.3"/>
<circle cx="62.3" cy="636.9" r="2.3"/>
<circle cx="69.3" cy="637.7" r="2.3"/>
<circle cx="59" cy="639.7" r="2.3"/>
<circle cx="65.9" cy="643.4" r="2.3"/>
<circle cx="72.1" cy="641.8" r="2.3"/>
</g>
<path d="M56.6 633.6H74.8" stroke="#000" stroke-width="1.45" fill="none"/>
<path d="M65.7 629.8V637.4" stroke="#000" stroke-width="2.7" fill="none"/>
<path d="M60.1 629.8H71.3M60.1 637.4H71.3" stroke="#000" stroke-width="2.1" fill="none"/>
<g fill="#000">
<rect x="84.75" y="691.15" width="4.3" height="4.3"/>
<rect x="90.85" y="691.75" width="4.3" height="4.3"/>
<rect x="97.75" y="690.75" width="4.3" height="4.3"/>
<rect x="84.55" y="694.85" width="4.3" height="4.3"/>
<rect x="88.35" y="695.05" width="4.3" height="4.3"/>
<rect x="93.85" y="695.05" width="4.3" height="4.3"/>
<rect x="97.65" y="694.65" width="4.3" height="4.3"/>
<rect x="84.55" y="698.85" width="4.3" height="4.3"/>
<rect x="90.85" y="699.45" width="4.3" height="4.3"/>
<rect x="97.75" y="698.65" width="4.3" height="4.3"/>
</g>
<path d="M84.10000000000001 697H102.3" stroke="#000" stroke-width="1.45" fill="none"/>
<path d="M93.2 695.8V698.2" stroke="#000" stroke-width="2.7" fill="none"/>
<path d="M87.60000000000001 695.8H98.8M87.60000000000001 698.2H98.8" stroke="#000" stroke-width="2.1" fill="none"/>
<g fill="#000">
<path d="M118.45 690.30L120.7 686.20L122.95 690.30Z"/>
<path d="M115.25 694.90L117.5 690.80L119.75 694.90Z"/>
<path d="M121.55 694.90L123.8 690.80L126.05 694.90Z"/>
<path d="M118.35 695.40L120.6 691.30L122.85 695.40Z"/>
<path d="M112.15 699.30L114.4 695.20L116.65 699.30Z"/>
<path d="M118.45 699.30L120.7 695.20L122.95 699.30Z"/>
<path d="M125.05 699.30L127.3 695.20L129.55 699.30Z"/>
</g>
<path d="M111.5 694.1H129.7" stroke="#000" stroke-width="1.45" fill="none"/>
<path d="M120.6 693V695.2" stroke="#000" stroke-width="2.7" fill="none"/>
<path d="M115.0 693H126.19999999999999M115.0 695.2H126.19999999999999" stroke="#000" stroke-width="2.1" fill="none"/>
<g fill="#000">
<path d="M145.85 668.90L148.1 673.00L150.35 668.90Z"/>
<path d="M142.85 678.20L145.1 682.30L147.35 678.20Z"/>
<path d="M149.05 678.20L151.3 682.30L153.55 678.20Z"/>
<path d="M142.25 684.10L144.5 688.20L146.75 684.10Z"/>
<path d="M149.45 684.10L151.7 688.20L153.95 684.10Z"/>
<path d="M145.85 686.10L148.1 690.20L150.35 686.10Z"/>
<path d="M139.25 690.80L141.5 694.90L143.75 690.80Z"/>
<path d="M152.35 690.80L154.6 694.90L156.85 690.80Z"/>
<path d="M145.85 695.10L148.1 699.20L150.35 695.10Z"/>
</g>
<path d="M139.0 687.2H157.2" stroke="#000" stroke-width="1.45" fill="none"/>
<path d="M148.1 683.4V690.4" stroke="#000" stroke-width="2.7" fill="none"/>
<path d="M142.5 683.4H153.7M142.5 690.4H153.7" stroke="#000" stroke-width="2.1" fill="none"/>
<g fill="#000">
<path d="M166.85 668.4L169 666.10L171.15 668.4L169 670.70Z"/>
<path d="M171.75 669.5L173.9 667.20L176.05 669.5L173.9 671.80Z"/>
<path d="M176.15 671.2L178.3 668.90L180.45 671.2L178.3 673.50Z"/>
<path d="M169.85 673.8L172 671.50L174.15 673.8L172 676.10Z"/>
<path d="M173.35 674.3L175.5 672.00L177.65 674.3L175.5 676.60Z"/>
<path d="M177.15 674.8L179.3 672.50L181.45 674.8L179.3 677.10Z"/>
<path d="M171.35 676.6L173.5 674.30L175.65 676.6L173.5 678.90Z"/>
<path d="M175.35 676.8L177.5 674.50L179.65 676.8L177.5 679.10Z"/>
<path d="M166.85 679.8L169 677.50L171.15 679.8L169 682.10Z"/>
<path d="M170.45 681.8L172.6 679.50L174.75 681.8L172.6 684.10Z"/>
<path d="M176.65 681L178.8 678.70L180.95 681L178.8 683.30Z"/>
</g>
<path d="M166.4 674.7H184.6" stroke="#000" stroke-width="1.45" fill="none"/>
<path d="M175.5 673.2V676.2" stroke="#000" stroke-width="2.7" fill="none"/>
<path d="M169.9 673.2H181.1M169.9 676.2H181.1" stroke="#000" stroke-width="2.1" fill="none"/>
<g fill="#000">
<circle cx="195.8" cy="657.7" r="2.35" fill="none" stroke="#000" stroke-width="2.6"/>
<circle cx="202.8" cy="656.1" r="2.35" fill="none" stroke="#000" stroke-width="2.6"/>
<circle cx="206.9" cy="660.5" r="2.35" fill="none" stroke="#000" stroke-width="2.6"/>
<circle cx="199.6" cy="662" r="2.35" fill="none" stroke="#000" stroke-width="2.6"/>
<circle cx="203.4" cy="664.4" r="2.35" fill="none" stroke="#000" stroke-width="2.6"/>
<circle cx="200.8" cy="667" r="2.35" fill="none" stroke="#000" stroke-width="2.6"/>
<circle cx="206.9" cy="667.9" r="2.35" fill="none" stroke="#000" stroke-width="2.6"/>
<circle cx="199.6" cy="676.9" r="2.35" fill="none" stroke="#000" stroke-width="2.6"/>
<circle cx="206.4" cy="674.1" r="2.35" fill="none" stroke="#000" stroke-width="2.6"/>
</g>
<path d="M193.70000000000002 664.9H211.9" stroke="#000" stroke-width="1.45" fill="none"/>
<path d="M202.8 662.8V667" stroke="#000" stroke-width="2.7" fill="none"/>
<path d="M197.20000000000002 662.8H208.4M197.20000000000002 667H208.4" stroke="#000" stroke-width="2.1" fill="none"/>
<path d="M342.5 596.4V706.4H506.7" fill="none" stroke="#111" stroke-width="1.4"/>
<path d="M339.1 706.40H342.5" stroke="#111" stroke-width="1.2"/>
<text x="338.5" y="709.2" font-size="8" text-anchor="end" fill="#222">0</text>
<path d="M339.1 684.52H342.5" stroke="#111" stroke-width="1.2"/>
<text x="338.5" y="687.32" font-size="8" text-anchor="end" fill="#222">100</text>
<path d="M339.1 662.64H342.5" stroke="#111" stroke-width="1.2"/>
<text x="338.5" y="665.44" font-size="8" text-anchor="end" fill="#222">200</text>
<path d="M339.1 640.76H342.5" stroke="#111" stroke-width="1.2"/>
<text x="338.5" y="643.56" font-size="8" text-anchor="end" fill="#222">300</text>
<path d="M339.1 618.88H342.5" stroke="#111" stroke-width="1.2"/>
<text x="338.5" y="621.68" font-size="8" text-anchor="end" fill="#222">400</text>
<path d="M339.1 597.00H342.5" stroke="#111" stroke-width="1.2"/>
<text x="338.5" y="599.8" font-size="8" text-anchor="end" fill="#222">500</text>
<path d="M356.9 706.4V710.0" stroke="#111" stroke-width="1.2"/>
<path d="M384.2 706.4V710.0" stroke="#111" stroke-width="1.2"/>
<path d="M411.7 706.4V710.0" stroke="#111" stroke-width="1.2"/>
<path d="M438.9 706.4V710.0" stroke="#111" stroke-width="1.2"/>
<path d="M466.2 706.4V710.0" stroke="#111" stroke-width="1.2"/>
<path d="M493.7 706.4V710.0" stroke="#111" stroke-width="1.2"/>
<text x="355.6" y="717.3" font-size="8" text-anchor="middle" fill="#222">PBS</text>
<text x="383.5" y="717.3" font-size="8" text-anchor="middle" fill="#222">80</text>
<text x="411.0" y="717.3" font-size="8" text-anchor="middle" fill="#222">40</text>
<text x="438.2" y="717.3" font-size="8" text-anchor="middle" fill="#222">20</text>
<text x="465.5" y="717.3" font-size="8" text-anchor="middle" fill="#222">10</text>
<text x="493.0" y="717.3" font-size="8" text-anchor="middle" fill="#222">5</text>
<text x="317.6" y="699.4" font-size="9.05" font-weight="bold" text-anchor="start" transform="rotate(-90 317.6 699.4)">PKK plasma levels, %</text>
<text x="384.59999999999997" y="608.5" font-size="17.3" font-weight="bold" text-anchor="middle" letter-spacing="0.8">***</text>
<text x="412.4" y="608.5" font-size="17.3" font-weight="bold" text-anchor="middle" letter-spacing="0.8">***</text>
<text x="440.59999999999997" y="608.5" font-size="17.3" font-weight="bold" text-anchor="middle" letter-spacing="0.8">***</text>
<text x="466.09999999999997" y="608.5" font-size="17.3" font-weight="bold" text-anchor="middle" letter-spacing="0.8">**</text>
<path d="M373.8 716.6V724.8H503V716.6" fill="none" stroke="#000" stroke-width="1.3"/>
<text x="437.8" y="735.6" font-size="8.45" font-weight="bold" text-anchor="middle">fXII ASO mpk/wk</text>
<g fill="#000">
<circle cx="356.9" cy="675.4" r="2.3"/>
<circle cx="353.6" cy="679" r="2.3"/>
<circle cx="354.4" cy="683.6" r="2.3"/>
<circle cx="359.3" cy="682.7" r="2.3"/>
<circle cx="350.4" cy="686" r="2.3"/>
<circle cx="356.5" cy="686.2" r="2.3"/>
<circle cx="363.4" cy="687.6" r="2.3"/>
<circle cx="359.8" cy="687" r="2.3"/>
<circle cx="356.9" cy="690.9" r="2.3"/>
</g>
<path d="M347.7 685.2H365.90000000000003" stroke="#000" stroke-width="1.45" fill="none"/>
<path d="M356.8 683.2V687.2" stroke="#000" stroke-width="2.7" fill="none"/>
<path d="M351.2 683.2H362.40000000000003M351.2 687.2H362.40000000000003" stroke="#000" stroke-width="2.1" fill="none"/>
<g fill="#000">
<rect x="382.05" y="619.65" width="4.3" height="4.3"/>
<rect x="375.55" y="637.25" width="4.3" height="4.3"/>
<rect x="382.05" y="636.95" width="4.3" height="4.3"/>
<rect x="388.25" y="640.55" width="4.3" height="4.3"/>
<rect x="378.75" y="655.55" width="4.3" height="4.3"/>
<rect x="385.35" y="656.85" width="4.3" height="4.3"/>
<rect x="382.05" y="665.05" width="4.3" height="4.3"/>
</g>
<path d="M375.09999999999997 646.3H393.3" stroke="#000" stroke-width="1.45" fill="none"/>
<path d="M384.2 641V651.7" stroke="#000" stroke-width="2.7" fill="none"/>
<path d="M378.59999999999997 641H389.8M378.59999999999997 651.7H389.8" stroke="#000" stroke-width="2.1" fill="none"/>
<g fill="#000">
<path d="M409.45 638.90L411.7 634.80L413.95 638.90Z"/>
<path d="M415.15 652.80L417.4 648.70L419.65 652.80Z"/>
<path d="M404.25 655.40L406.5 651.30L408.75 655.40Z"/>
<path d="M411.75 655.10L414 651.00L416.25 655.10Z"/>
<path d="M409.45 660.10L411.7 656.00L413.95 660.10Z"/>
<path d="M402.85 661.80L405.1 657.70L407.35 661.80Z"/>
<path d="M406.15 665.00L408.4 660.90L410.65 665.00Z"/>
<path d="M412.65 663.90L414.9 659.80L417.15 663.90Z"/>
</g>
<path d="M402.59999999999997 654.5H420.8" stroke="#000" stroke-width="1.45" fill="none"/>
<path d="M411.7 652.2V657.4" stroke="#000" stroke-width="2.7" fill="none"/>
<path d="M406.09999999999997 652.2H417.3M406.09999999999997 657.4H417.3" stroke="#000" stroke-width="2.1" fill="none"/>
<g fill="#000">
<path d="M436.65 632.10L438.9 636.20L441.15 632.10Z"/>
<path d="M436.65 642.80L438.9 646.90L441.15 642.80Z"/>
<path d="M433.35 658.00L435.6 662.10L437.85 658.00Z"/>
<path d="M439.95 663.70L442.2 667.80L444.45 663.70Z"/>
<path d="M436.65 655.60L438.9 659.70L441.15 655.60Z"/>
<path d="M436.65 684.10L438.9 688.20L441.15 684.10Z"/>
</g>
<path d="M429.79999999999995 658.5H448.0" stroke="#000" stroke-width="1.45" fill="none"/>
<path d="M438.9 653.3V663.6" stroke="#000" stroke-width="2.7" fill="none"/>
<path d="M433.29999999999995 653.3H444.5M433.29999999999995 663.6H444.5" stroke="#000" stroke-width="2.1" fill="none"/>
<g fill="#000">
<path d="M464.05 634.2L466.2 631.90L468.35 634.2L466.2 636.50Z"/>
<path d="M460.75 647.3L462.9 645.00L465.05 647.3L462.9 649.60Z"/>
<path d="M467.35 651.2L469.5 648.90L471.65 651.2L469.5 653.50Z"/>
<path d="M462.05 662.6L464.2 660.30L466.35 662.6L464.2 664.90Z"/>
<path d="M467.35 684.4L469.5 682.10L471.65 684.4L469.5 686.70Z"/>
<path d="M460.75 689.8L462.9 687.50L465.05 689.8L462.9 692.10Z"/>
</g>
<path d="M457.09999999999997 662.3H475.3" stroke="#000" stroke-width="1.45" fill="none"/>
<path d="M466.2 655V667.5" stroke="#000" stroke-width="2.7" fill="none"/>
<path d="M460.59999999999997 655H471.8M460.59999999999997 667.5H471.8" stroke="#000" stroke-width="2.1" fill="none"/>
<g fill="#000">
<circle cx="493.7" cy="657.7" r="2.35" fill="none" stroke="#000" stroke-width="2.6"/>
<circle cx="493.7" cy="672.6" r="2.35" fill="none" stroke="#000" stroke-width="2.6"/>
<circle cx="487.1" cy="681.9" r="2.35" fill="none" stroke="#000" stroke-width="2.6"/>
<circle cx="493.7" cy="680.6" r="2.35" fill="none" stroke="#000" stroke-width="2.6"/>
<circle cx="500.2" cy="681.1" r="2.35" fill="none" stroke="#000" stroke-width="2.6"/>
<circle cx="490.4" cy="685.2" r="2.35" fill="none" stroke="#000" stroke-width="2.6"/>
<circle cx="496.9" cy="685.5" r="2.35" fill="none" stroke="#000" stroke-width="2.6"/>
<circle cx="486.8" cy="688.8" r="2.35" fill="none" stroke="#000" stroke-width="2.6"/>
<circle cx="500.2" cy="689.6" r="2.35" fill="none" stroke="#000" stroke-width="2.6"/>
<circle cx="493.7" cy="692.2" r="2.35" fill="none" stroke="#000" stroke-width="2.6"/>
</g>
<path d="M484.59999999999997 677.8H502.8" stroke="#000" stroke-width="1.45" fill="none"/>
<path d="M493.7 675V680.6" stroke="#000" stroke-width="2.7" fill="none"/>
<path d="M488.09999999999997 675H499.3M488.09999999999997 680.6H499.3" stroke="#000" stroke-width="2.1" fill="none"/>
</g>
</svg>
</body></html>
